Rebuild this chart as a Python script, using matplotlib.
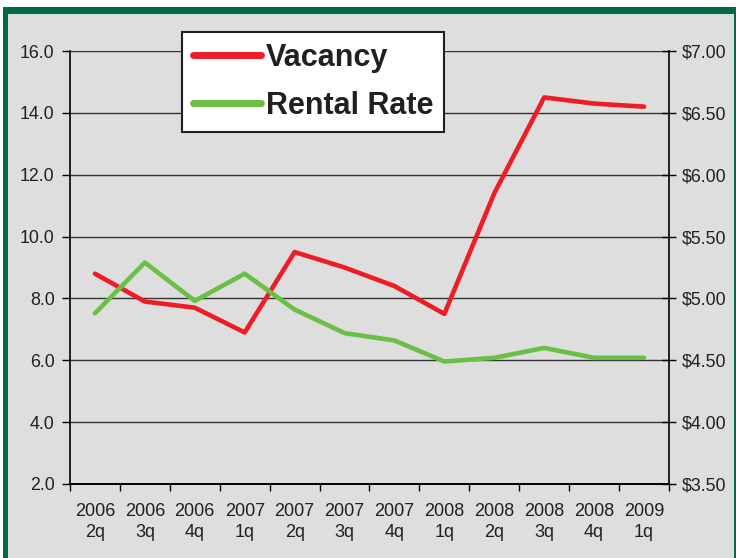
import matplotlib
matplotlib.use("Agg")
import matplotlib.pyplot as plt
from matplotlib.patches import Rectangle
from matplotlib.ticker import FixedLocator, NullFormatter

# quarterly office market figures
quarters = ['2006\n2q', '2006\n3q', '2006\n4q', '2007\n1q', '2007\n2q', '2007\n3q',
            '2007\n4q', '2008\n1q', '2008\n2q', '2008\n3q', '2008\n4q', '2009\n1q']
vacancy = [8.8, 7.9, 7.7, 6.9, 9.5, 9.0, 8.4, 7.5, 11.4, 14.5, 14.3, 14.2]
rental_rate = [4.88, 5.29, 4.98, 5.20, 4.91, 4.72, 4.66, 4.49, 4.52, 4.60, 4.52, 4.52]

left_ticks = [2.0, 4.0, 6.0, 8.0, 10.0, 12.0, 14.0, 16.0]
right_ticks = [3.50, 4.00, 4.50, 5.00, 5.50, 6.00, 6.50, 7.00]

RED = '#ee1c25'
GREEN = '#6abf45'
BORDER = '#006b45'
BG = '#dedede'
INK = '#231f20'

W, H = 736, 558
fig = plt.figure(figsize=(W / 100, H / 100), dpi=100, facecolor=BG)

# white margin and green frame around the panel
def px_rect(x0, y0, x1, y1, color):
    fig.patches.append(Rectangle((x0 / W, 1 - y1 / H), (x1 - x0) / W, (y1 - y0) / H,
                                 transform=fig.transFigure, facecolor=color,
                                 edgecolor='none', zorder=-5))

px_rect(0, 0, W, 7, 'white')
px_rect(0, 0, 3, H, 'white')
px_rect(3, 7, W, 14, BORDER)
px_rect(3, 7, 8, H, BORDER)
px_rect(734, 7, W, H, BORDER)

ax = fig.add_axes([70 / W, (H - 484) / H, 599 / W, 433 / H])
ax.set_facecolor(BG)
ax2 = ax.twinx()

x = list(range(len(quarters)))
l1, = ax.plot(x, vacancy, color=RED, lw=3.3, solid_capstyle='round', label='Vacancy', zorder=3)
l2, = ax2.plot(x, rental_rate, color=GREEN, lw=3.3, solid_capstyle='round', label='Rental Rate', zorder=3)

ax.set_xlim(-0.5, len(quarters) - 0.5)
ax.set_ylim(2, 16)
ax2.set_ylim(3.5, 7.0)

ax.set_yticks(left_ticks)
ax.set_yticklabels([f'{v:.1f}' for v in left_ticks])
ax2.set_yticks(right_ticks)
ax2.set_yticklabels([f'${v:.2f}' for v in right_ticks])

# category boundaries get tick marks, centres get the labels
ax.xaxis.set_major_locator(FixedLocator([i - 0.5 for i in range(len(quarters) + 1)]))
ax.xaxis.set_major_formatter(NullFormatter())
ax.xaxis.set_minor_locator(FixedLocator(x))
ax.set_xticklabels(quarters, minor=True)
ax.tick_params(axis='x', which='major', direction='out', length=5, width=1, color='black')
ax.tick_params(axis='x', which='minor', length=0, pad=14, labelsize=13, labelcolor=INK)
for lab in ax.get_xticklabels(minor=True):
    lab.set_family(['Liberation Sans Narrow', 'Liberation Sans', 'DejaVu Sans'])
    lab.set_linespacing(1.3)

ax.tick_params(axis='y', direction='out', length=6, width=1, pad=5, labelsize=12.8, labelcolor=INK)
ax2.tick_params(axis='y', direction='inout', length=10, width=1, pad=4, labelsize=12.8, labelcolor=INK)
for lab in ax.get_yticklabels() + ax2.get_yticklabels():
    lab.set_family(['Liberation Sans', 'DejaVu Sans'])

ax.yaxis.grid(True, color='#333333', lw=1.0)
ax.set_axisbelow(True)
for a in (ax, ax2):
    a.spines['top'].set_visible(False)
    for s in ('left', 'right', 'bottom'):
        a.spines[s].set_color('black')
        a.spines[s].set_linewidth(1.2)
ax2.spines['left'].set_visible(False)
ax.spines['right'].set_visible(False)

leg = fig.legend(handles=[l1, l2], loc='upper left', bbox_to_anchor=(182 / W, 1 - 32 / H),
                 frameon=True, fancybox=False, framealpha=1, facecolor='white', edgecolor=INK,
                 prop={'family': ['Liberation Sans', 'DejaVu Sans'], 'weight': 'bold', 'size': 22},
                 handlelength=2.25, handletextpad=0.15, labelspacing=0.6, borderpad=0.35,
                 borderaxespad=0)
leg.get_frame().set_linewidth(1.5)
for t in leg.get_texts():
    t.set_color(INK)
for h in leg.get_lines():
    h.set_linewidth(5)

fig.savefig('out.png', dpi=100, facecolor=fig.get_facecolor())
